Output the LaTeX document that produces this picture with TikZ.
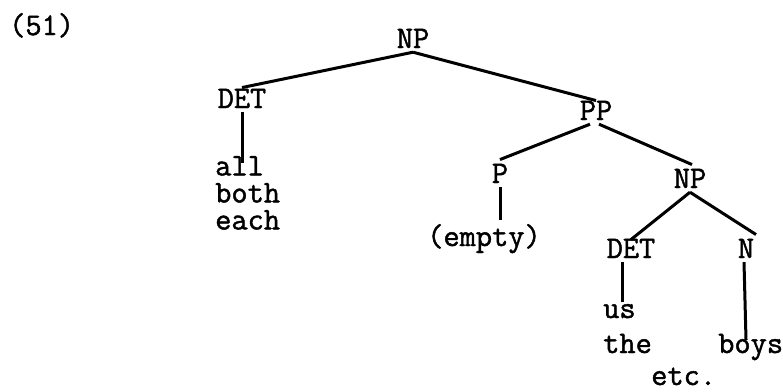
\documentclass[tikz,border=0pt]{standalone}
\usepackage{fontspec}
\newfontfamily\tw{Latin Modern Mono}[FakeBold=1.4]
\begin{document}
\begin{tikzpicture}[x=1pt,y=-1pt,
  lab/.style={font=\tw\fontsize{31.5}{31.5}\selectfont, inner sep=4pt, anchor=base},
  wrd/.style={font=\tw\fontsize{31.5}{31.5}\selectfont, inner sep=0pt, anchor=base west,
    text height=18pt, text depth=3pt},
  edge/.style={line width=3pt}]
\useasboundingbox (0,0) rectangle (783,391);
\node[wrd] (num) at (9,35) {(51)};
\node[lab] (np) at (413,48) {NP};
\node[lab] (det) at (242,108) {DET};
\node[font=\tw\fontsize{31.5}{27}\selectfont, inner sep=0pt, anchor=north west, align=left]
  (all) at (215,156) {all\\both\\each};
\node[lab] (pp) at (596,120) {PP};
\node[lab] (p) at (500,183) {P};
\node[lab] (np2) at (690,188) {NP};
\node[lab] (empty) at (484,246) {(empty)};
\node[lab] (det2) at (631,258) {DET};
\node[lab] (n) at (746,258) {N};
\node[wrd] (us) at (603,318) {us};
\node[wrd] (the) at (603,353) {the};
\node[wrd] (boys) at (718,353) {boys};
\node[wrd] (etc) at (651,385) {etc.};
\draw[edge] (np.south) -- ([yshift=-3pt]det.north);
\draw[edge] (np.south) -- ([yshift=-4pt]pp.north);
\draw[edge] ([xshift=-6pt]pp.south) -- (p.north);
\draw[edge] ([xshift=3pt]pp.south) -- ([xshift=2pt]np2.north);
\draw[edge] (p.south) -- (empty.north -| p.south);
\draw[edge] (np2.south) -- ([yshift=-5pt]det2.north);
\draw[edge] (np2.south) -- ([xshift=10pt]n.north);
\draw[edge] (det.south) -- ([yshift=-7pt]all.north -| det.south);
\draw[edge] ([xshift=-9pt]det2.south) -- ([xshift=-9pt,yshift=-2pt]det2.south |- us.north);
\draw[edge] ([xshift=-2pt]n.south) -- ([yshift=-5pt]n.south |- boys.north);
\end{tikzpicture}
\end{document}
